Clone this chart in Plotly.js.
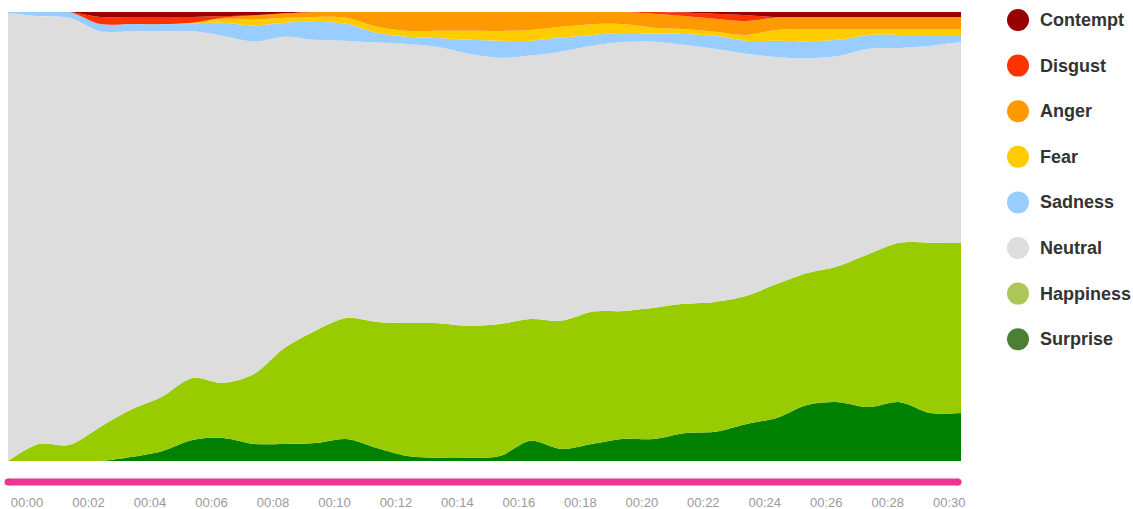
<!DOCTYPE html>
<html>
<head>
<meta charset="utf-8">
<script src="https://cdn.plot.ly/plotly-3.0.1.min.js"></script>
<style>
  html, body { margin: 0; padding: 0; background: #fff; }
  #chart { width: 1133px; height: 509px; }
</style>
</head>
<body>
<div id="chart"></div>
<script>
// Time in seconds
const seconds = [0, 1, 2, 3, 4, 5, 6, 7, 8, 9, 10, 11, 12, 13, 14, 15, 16, 17, 18, 19, 20, 21, 22, 23, 24, 25, 26, 27, 28, 29, 30, 31]

// Emotion shares (%) per second
const surprise = [0, 0, 0, 0, 0.9, 2.2, 4.7, 5.1, 3.8, 3.8, 4.0, 4.9, 2.9, 1.1, 0.7, 0.7, 1.1, 4.5, 2.7, 3.8, 4.9, 4.9, 6.2, 6.5, 8.2, 9.6, 12.5, 13.1, 12.0, 13.1, 10.7, 10.7]
const happiness = [0, 3.8, 3.6, 7.6, 10.5, 12.1, 13.8, 12.3, 15.6, 21.4, 25.0, 26.9, 28.0, 29.6, 30.0, 29.4, 29.4, 27.1, 28.5, 29.4, 28.5, 29.2, 28.8, 28.9, 28.5, 29.8, 29.4, 30.3, 34.1, 35.5, 37.9, 37.9]
const neutral = [99.8, 95.3, 95.1, 88.2, 84.4, 81.5, 77.2, 77.3, 74.1, 69.3, 64.8, 61.7, 62.1, 62.1, 61.5, 60.6, 59.2, 58.6, 59.9, 59.2, 59.9, 59.2, 57.7, 56.3, 53.9, 50.6, 47.9, 46.8, 45.7, 43.4, 43.9, 44.8]
const sadness = [0.2, 0.9, 1.3, 1.6, 1.6, 1.6, 1.8, 2.9, 3.6, 3.1, 4.0, 3.8, 2.2, 1.6, 2.0, 3.1, 3.8, 3.3, 3.1, 2.4, 2.0, 1.8, 2.4, 2.9, 2.9, 3.6, 3.8, 3.6, 3.1, 2.9, 2.4, 1.6]
const fear = [0, 0, 0, 0, 0, 0, 0.1, 0.9, 1.3, 1.1, 1.1, 1.3, 1.3, 1.3, 1.6, 2.0, 2.2, 2.4, 2.4, 2.4, 2.0, 1.3, 1.1, 0.9, 1.3, 2.4, 2.7, 2.4, 1.3, 1.3, 1.3, 1.3]
const anger = [0, 0, 0, 0, 0, 0, 0, 0.2, 0.9, 1.0, 1.1, 1.3, 3.3, 4.2, 4.2, 4.2, 4.2, 4.0, 3.3, 2.7, 2.7, 3.1, 2.9, 2.9, 3.1, 2.8, 2.7, 2.7, 2.7, 2.7, 2.7, 2.7]
const disgust = [0, 0, 0, 1.6, 1.6, 1.6, 1.3, 0.4, 0.1, 0, 0, 0, 0, 0, 0, 0, 0, 0, 0, 0, 0, 0.4, 0.8, 1.1, 1.3, 0.1, 0, 0, 0, 0, 0, 0]
const contempt = [0, 0, 0, 1.1, 1.1, 1.1, 1.1, 0.9, 0.7, 0.3, 0, 0, 0, 0, 0, 0, 0, 0, 0, 0, 0, 0, 0.1, 0.4, 0.7, 1.1, 1.1, 1.1, 1.1, 1.1, 1.1, 1.1]

// Tick labels
const tickSeconds = [0, 2, 4, 6, 8, 10, 12, 14, 16, 18, 20, 22, 24, 26, 28, 30]
const tickLabels = ['00:00', '00:02', '00:04', '00:06', '00:08', '00:10', '00:12', '00:14', '00:16', '00:18', '00:20', '00:22', '00:24', '00:26', '00:28', '00:30']

// Series, bottom of the stack first
const series = [
  { name: 'Surprise', values: surprise, fill: '#008000', dot: '#4a7f35' },
  { name: 'Happiness', values: happiness, fill: '#99cc00', dot: '#acc65a' },
  { name: 'Neutral', values: neutral, fill: '#dddddd', dot: '#dddddd' },
  { name: 'Sadness', values: sadness, fill: '#99ccff', dot: '#99ccff' },
  { name: 'Fear', values: fear, fill: '#ffcc00', dot: '#ffcc00' },
  { name: 'Anger', values: anger, fill: '#ff9900', dot: '#ff9900' },
  { name: 'Disgust', values: disgust, fill: '#ff3300', dot: '#ff3300' },
  { name: 'Contempt', values: contempt, fill: '#990000', dot: '#990000' }
]

const traces = series.map(s => ({
  x: seconds,
  y: s.values,
  name: s.name,
  type: 'scatter',
  mode: 'lines',
  stackgroup: 'one',
  groupnorm: 'percent',
  line: { width: 0, shape: 'spline', smoothing: 0.9 },
  fillcolor: s.fill,
  hoverinfo: 'skip',
  showlegend: false
}))

// Plot area in pixels
const plotLeft = 8
const plotRight = 961
const plotTop = 12
const plotBottom = 461
const W = 1133
const H = 509
const px2x = px => (px - plotLeft) / (plotRight - plotLeft)
const px2y = py => (plotBottom - py) / (plotBottom - plotTop)

// Custom legend, top item first
const shapes = []
const annotations = []
series.slice().reverse().forEach((s, i) => {
  const cy = 20 + i * 45.6
  shapes.push({
    type: 'circle',
    xref: 'paper', yref: 'paper',
    xsizemode: 'pixel', ysizemode: 'pixel',
    xanchor: px2x(1018), yanchor: px2y(cy),
    x0: -11, x1: 11, y0: -11, y1: 11,
    fillcolor: s.dot,
    line: { width: 0 }
  })
  annotations.push({
    xref: 'paper', yref: 'paper',
    x: px2x(1038), y: px2y(cy),
    xanchor: 'left', yanchor: 'middle',
    text: '<b>' + s.name + '</b>',
    showarrow: false,
    font: { family: 'Liberation Sans, Arial, sans-serif', size: 18, color: '#333333' }
  })
})

// Pink timeline bar
const barY = px2y(482)
shapes.push({
  type: 'line', xref: 'paper', yref: 'paper',
  x0: px2x(8), x1: px2x(958), y0: barY, y1: barY,
  line: { color: '#ef3494', width: 7 }
})
;[8, 958].forEach(px => {
  shapes.push({
    type: 'circle', xref: 'paper', yref: 'paper',
    xsizemode: 'pixel', ysizemode: 'pixel',
    xanchor: px2x(px), yanchor: barY,
    x0: -3.5, x1: 3.5, y0: -3.5, y1: 3.5,
    fillcolor: '#ef3494', line: { width: 0 }
  })
})

const layout = {
  width: W,
  height: H,
  margin: { l: plotLeft, r: W - plotRight, t: plotTop, b: H - plotBottom },
  paper_bgcolor: '#ffffff',
  plot_bgcolor: '#ffffff',
  showlegend: false,
  hovermode: false,
  xaxis: {
    range: [0, 31],
    showgrid: false,
    zeroline: false,
    showline: false,
    ticks: '',
    tickvals: tickSeconds,
    ticktext: tickLabels,
    ticklabelshift: 19,
    ticklabelstandoff: 32,
    tickfont: { family: 'Liberation Sans, Arial, sans-serif', size: 13, color: '#9a9a9a' },
    fixedrange: true
  },
  yaxis: {
    range: [0, 100],
    visible: false,
    fixedrange: true
  },
  shapes: shapes,
  annotations: annotations
}

Plotly.newPlot('chart', traces, layout, { displayModeBar: false, staticPlot: true })
</script>
</body>
</html>
